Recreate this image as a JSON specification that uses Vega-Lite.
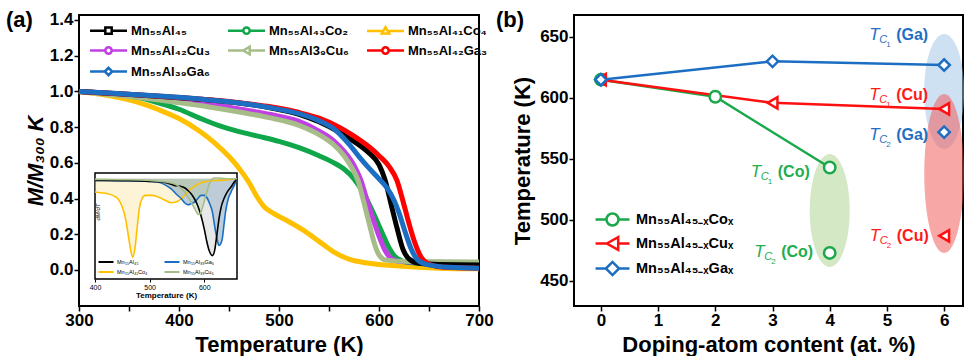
{
  "$schema": "https://vega.github.io/schema/vega-lite/v6.json",
  "padding": {"left": 5, "top": 7, "right": 0, "bottom": 0},
  "background": "white",
  "spacing": 0,
  "resolve": {"scale": {"color": "independent", "fill": "independent", "stroke": "independent", "shape": "independent"}, "legend": {"color": "independent", "fill": "independent", "stroke": "independent", "shape": "independent"}},
  "config": {
    "font": "Liberation Sans",
    "view": {"stroke": "black", "strokeWidth": 2},
    "axis": {"grid": false, "domain": false, "labelOverlap": false, "labelFlush": false, "labelFont": "Liberation Sans", "labelFontSize": 17, "labelFontWeight": "bold", "labelColor": "black", "titleFont": "Liberation Sans", "titleFontSize": 22, "titleFontWeight": "bold", "titleColor": "black", "tickColor": "black", "tickWidth": 1.5, "tickSize": 5, "labelPadding": 1},
    "legend": {"labelFont": "Liberation Sans", "labelColor": "black"}
  },
  "hconcat": [
    {
      "width": 400,
      "height": 291,
      "resolve": {"scale": {"x": "independent", "y": "independent"}},
      "layer": [
        {
          "data": {"values": [
            {"s":"Co4","T":300,"M":1.0},{"s":"Co4","T":320,"M":0.985},{"s":"Co4","T":340,"M":0.965},{"s":"Co4","T":360,"M":0.937},{"s":"Co4","T":380,"M":0.897},{"s":"Co4","T":400,"M":0.848},{"s":"Co4","T":420,"M":0.78},{"s":"Co4","T":435,"M":0.715},{"s":"Co4","T":450,"M":0.635},{"s":"Co4","T":460,"M":0.57},{"s":"Co4","T":470,"M":0.49},{"s":"Co4","T":478,"M":0.41},{"s":"Co4","T":485,"M":0.355},{"s":"Co4","T":495,"M":0.315},{"s":"Co4","T":510,"M":0.27},{"s":"Co4","T":525,"M":0.22},{"s":"Co4","T":540,"M":0.16},{"s":"Co4","T":555,"M":0.1},{"s":"Co4","T":570,"M":0.06},{"s":"Co4","T":590,"M":0.037},{"s":"Co4","T":620,"M":0.022},{"s":"Co4","T":660,"M":0.01},{"s":"Co4","T":700,"M":0.006},
            {"s":"Co2","T":300,"M":1.0},{"s":"Co2","T":330,"M":0.988},{"s":"Co2","T":360,"M":0.965},{"s":"Co2","T":380,"M":0.935},{"s":"Co2","T":400,"M":0.9},{"s":"Co2","T":420,"M":0.852},{"s":"Co2","T":440,"M":0.808},{"s":"Co2","T":460,"M":0.775},{"s":"Co2","T":480,"M":0.748},{"s":"Co2","T":500,"M":0.72},{"s":"Co2","T":520,"M":0.685},{"s":"Co2","T":540,"M":0.64},{"s":"Co2","T":555,"M":0.6},{"s":"Co2","T":565,"M":0.565},{"s":"Co2","T":575,"M":0.51},{"s":"Co2","T":585,"M":0.425},{"s":"Co2","T":595,"M":0.31},{"s":"Co2","T":603,"M":0.21},{"s":"Co2","T":610,"M":0.125},{"s":"Co2","T":618,"M":0.065},{"s":"Co2","T":630,"M":0.042},{"s":"Co2","T":660,"M":0.036},{"s":"Co2","T":700,"M":0.035},
            {"s":"Cu3","T":300,"M":1.0},{"s":"Cu3","T":330,"M":0.988},{"s":"Cu3","T":360,"M":0.973},{"s":"Cu3","T":400,"M":0.948},{"s":"Cu3","T":430,"M":0.928},{"s":"Cu3","T":460,"M":0.902},{"s":"Cu3","T":490,"M":0.872},{"s":"Cu3","T":520,"M":0.832},{"s":"Cu3","T":540,"M":0.778},{"s":"Cu3","T":555,"M":0.722},{"s":"Cu3","T":565,"M":0.665},{"s":"Cu3","T":575,"M":0.585},{"s":"Cu3","T":582,"M":0.5},{"s":"Cu3","T":588,"M":0.39},{"s":"Cu3","T":594,"M":0.285},{"s":"Cu3","T":600,"M":0.19},{"s":"Cu3","T":606,"M":0.11},{"s":"Cu3","T":612,"M":0.065},{"s":"Cu3","T":620,"M":0.048},{"s":"Cu3","T":650,"M":0.04},{"s":"Cu3","T":700,"M":0.04},
            {"s":"Cu6","T":300,"M":1.0},{"s":"Cu6","T":330,"M":0.982},{"s":"Cu6","T":360,"M":0.966},{"s":"Cu6","T":400,"M":0.937},{"s":"Cu6","T":430,"M":0.913},{"s":"Cu6","T":460,"M":0.885},{"s":"Cu6","T":490,"M":0.853},{"s":"Cu6","T":520,"M":0.81},{"s":"Cu6","T":540,"M":0.758},{"s":"Cu6","T":555,"M":0.7},{"s":"Cu6","T":565,"M":0.64},{"s":"Cu6","T":572,"M":0.58},{"s":"Cu6","T":579,"M":0.5},{"s":"Cu6","T":585,"M":0.375},{"s":"Cu6","T":590,"M":0.265},{"s":"Cu6","T":595,"M":0.155},{"s":"Cu6","T":600,"M":0.085},{"s":"Cu6","T":607,"M":0.055},{"s":"Cu6","T":630,"M":0.047},{"s":"Cu6","T":700,"M":0.045},
            {"s":"45","T":300,"M":1.0},{"s":"45","T":330,"M":0.99},{"s":"45","T":360,"M":0.98},{"s":"45","T":400,"M":0.965},{"s":"45","T":430,"M":0.952},{"s":"45","T":460,"M":0.935},{"s":"45","T":490,"M":0.91},{"s":"45","T":520,"M":0.872},{"s":"45","T":540,"M":0.83},{"s":"45","T":560,"M":0.772},{"s":"45","T":575,"M":0.72},{"s":"45","T":590,"M":0.655},{"s":"45","T":600,"M":0.59},{"s":"45","T":606,"M":0.505},{"s":"45","T":612,"M":0.37},{"s":"45","T":618,"M":0.235},{"s":"45","T":624,"M":0.115},{"s":"45","T":630,"M":0.062},{"s":"45","T":640,"M":0.037},{"s":"45","T":660,"M":0.03},{"s":"45","T":700,"M":0.028},
            {"s":"Ga3","T":300,"M":1.0},{"s":"Ga3","T":330,"M":0.99},{"s":"Ga3","T":360,"M":0.98},{"s":"Ga3","T":400,"M":0.966},{"s":"Ga3","T":430,"M":0.953},{"s":"Ga3","T":460,"M":0.937},{"s":"Ga3","T":490,"M":0.915},{"s":"Ga3","T":520,"M":0.882},{"s":"Ga3","T":540,"M":0.85},{"s":"Ga3","T":560,"M":0.8},{"s":"Ga3","T":575,"M":0.75},{"s":"Ga3","T":590,"M":0.69},{"s":"Ga3","T":600,"M":0.64},{"s":"Ga3","T":610,"M":0.58},{"s":"Ga3","T":618,"M":0.5},{"s":"Ga3","T":624,"M":0.385},{"s":"Ga3","T":630,"M":0.26},{"s":"Ga3","T":636,"M":0.15},{"s":"Ga3","T":642,"M":0.072},{"s":"Ga3","T":650,"M":0.032},{"s":"Ga3","T":665,"M":0.015},{"s":"Ga3","T":700,"M":0.01},
            {"s":"Ga6","T":300,"M":1.0},{"s":"Ga6","T":330,"M":0.991},{"s":"Ga6","T":360,"M":0.981},{"s":"Ga6","T":400,"M":0.967},{"s":"Ga6","T":430,"M":0.952},{"s":"Ga6","T":460,"M":0.935},{"s":"Ga6","T":490,"M":0.91},{"s":"Ga6","T":520,"M":0.875},{"s":"Ga6","T":540,"M":0.835},{"s":"Ga6","T":555,"M":0.79},{"s":"Ga6","T":570,"M":0.705},{"s":"Ga6","T":580,"M":0.635},{"s":"Ga6","T":590,"M":0.57},{"s":"Ga6","T":600,"M":0.51},{"s":"Ga6","T":608,"M":0.46},{"s":"Ga6","T":615,"M":0.39},{"s":"Ga6","T":620,"M":0.32},{"s":"Ga6","T":626,"M":0.215},{"s":"Ga6","T":632,"M":0.12},{"s":"Ga6","T":638,"M":0.06},{"s":"Ga6","T":648,"M":0.03},{"s":"Ga6","T":670,"M":0.015},{"s":"Ga6","T":700,"M":0.01}
          ]},
          "layer": [
            {
              "mark": {"type": "line", "strokeWidth": 5, "interpolate": "monotone"},
              "encoding": {
                "x": {"field": "T", "type": "quantitative", "title": "Temperature (K)", "scale": {"domain": [300, 700], "nice": false, "zero": false},
                      "axis": {"values": [300,350,400,450,500,550,600,650,700], "labelExpr": "datum.value % 100 == 0 ? format(datum.value, 'd') : ''", "labelOverlap": false, "labelFlush": false, "titlePadding": 6}},
                "y": {"field": "M", "type": "quantitative", "title": "M/M₃₀₀ K", "scale": {"domain": [-0.202, 1.428], "nice": false, "zero": false},
                      "axis": {"values": [0,0.1,0.2,0.3,0.4,0.5,0.6,0.7,0.8,0.9,1.0,1.1,1.2,1.3,1.4], "labels": true, "ticks": true, "labelExpr": "abs(round(datum.value*5) - datum.value*5) < 0.01 ? format(datum.value, '.1f') : ''", "labelOverlap": false, "titleFontStyle": "italic", "titlePadding": 2}},
                "color": {"field": "s", "type": "nominal",
                  "scale": {"domain": ["45","Co2","Co4","Cu3","Cu6","Ga3","Ga6"], "range": ["#000000","#10a64a","#ffc000","#c040e4","#a6bd8a","#ff0000","#1b6ec2"]},
                  "legend": {"orient": "none", "direction": "horizontal", "legendX": 22, "legendY": 8, "columns": 3, "title": null, "symbolType": "M-3,0H3", "symbolSize": 144, "symbolStrokeWidth": 2.5, "labelFontSize": 13, "labelFontWeight": "bold", "labelOffset": 15, "columnPadding": 12, "rowPadding": 2,
                    "labelExpr": "{'45':'Mn₅₅Al₄₅','Co2':'Mn₅₅Al₄₃Co₂','Co4':'Mn₅₅Al₄₁Co₄','Cu3':'Mn₅₅Al₄₂Cu₃','Cu6':'Mn₅₅Al3₉Cu₆','Ga3':'Mn₅₅Al₄₂Ga₃','Ga6':'Mn₅₅Al₃₉Ga₆'}[datum.value]",
                    "encode": {"symbols": {"update": {
                      "shape": {"signal": "{'45':'M-3.08,0H-0.53M0.53,0H3.08M-0.53,-0.53H0.53V0.53H-0.53Z','Co2':'M-3.08,0H-0.53M0.53,0H3.08M-0.53,0A0.53,0.53 0 1,1 0.53,0A0.53,0.53 0 1,1 -0.53,0Z','Co4':'M-3.08,0H-0.4M0.4,0H3.08M0,-0.62L0.62,0.45H-0.62Z','Cu3':'M-3.08,0H-0.53M0.53,0H3.08M-0.53,0A0.53,0.53 0 1,1 0.53,0A0.53,0.53 0 1,1 -0.53,0Z','Cu6':'M-3.08,0H-0.53M0.53,0H3.08M-0.53,0L0.53,-0.62V0.62Z','Ga3':'M-3.08,0H-0.53M0.53,0H3.08M-0.53,0A0.53,0.53 0 1,1 0.53,0A0.53,0.53 0 1,1 -0.53,0Z','Ga6':'M-3.08,0H-0.62M0.62,0H3.08M-0.62,0L0,-0.62L0.62,0L0,0.62Z'}[datum.value]"},
                      "fill": {"value": "white"},
                      "strokeWidth": {"value": 2.5}
                    }}}
                  }}
              }
            },
            {
              "data": {"values": [{}]},
              "mark": {"type": "text", "text": "(a)", "align": "left", "baseline": "middle", "dx": -73, "fontSize": 22, "fontWeight": "bold", "color": "black"},
              "encoding": {"x": {"datum": 300, "type": "quantitative"}, "y": {"datum": 1.4, "type": "quantitative"}}
            }
          ]
        },
        {
          "data": {"values": [
            {"si":"Co4","T":400,"d":-0.4},{"si":"Co4","T":410,"d":-0.42},{"si":"Co4","T":423,"d":-0.45},{"si":"Co4","T":435,"d":-0.52},{"si":"Co4","T":442,"d":-0.6},{"si":"Co4","T":450,"d":-0.85},{"si":"Co4","T":456,"d":-1.2},{"si":"Co4","T":461,"d":-1.7},{"si":"Co4","T":465,"d":-2.1},{"si":"Co4","T":469,"d":-2.35},{"si":"Co4","T":473,"d":-2.1},{"si":"Co4","T":477,"d":-1.5},{"si":"Co4","T":481,"d":-0.9},{"si":"Co4","T":486,"d":-0.6},{"si":"Co4","T":492,"d":-0.5},{"si":"Co4","T":505,"d":-0.5},{"si":"Co4","T":520,"d":-0.58},{"si":"Co4","T":530,"d":-0.66},{"si":"Co4","T":539,"d":-0.72},{"si":"Co4","T":548,"d":-0.7},{"si":"Co4","T":558,"d":-0.6},{"si":"Co4","T":567,"d":-0.45},{"si":"Co4","T":576,"d":-0.3},{"si":"Co4","T":585,"d":-0.2},{"si":"Co4","T":594,"d":-0.12},{"si":"Co4","T":610,"d":-0.07},{"si":"Co4","T":625,"d":-0.05},{"si":"Co4","T":645,"d":-0.03},{"si":"Co4","T":660,"d":0},
            {"si":"Ga6","T":400,"d":-0.05},{"si":"Ga6","T":450,"d":-0.06},{"si":"Ga6","T":500,"d":-0.08},{"si":"Ga6","T":515,"d":-0.1},{"si":"Ga6","T":530,"d":-0.2},{"si":"Ga6","T":539,"d":-0.3},{"si":"Ga6","T":550,"d":-0.48},{"si":"Ga6","T":558,"d":-0.6},{"si":"Ga6","T":564,"d":-0.72},{"si":"Ga6","T":570,"d":-0.78},{"si":"Ga6","T":576,"d":-0.75},{"si":"Ga6","T":582,"d":-0.7},{"si":"Ga6","T":588,"d":-0.6},{"si":"Ga6","T":594,"d":-0.5},{"si":"Ga6","T":600,"d":-0.5},{"si":"Ga6","T":606,"d":-0.6},{"si":"Ga6","T":610,"d":-0.75},{"si":"Ga6","T":615,"d":-1.0},{"si":"Ga6","T":618,"d":-1.3},{"si":"Ga6","T":621,"d":-1.6},{"si":"Ga6","T":624,"d":-1.85},{"si":"Ga6","T":627,"d":-2.0},{"si":"Ga6","T":630,"d":-1.95},{"si":"Ga6","T":633,"d":-1.8},{"si":"Ga6","T":636,"d":-1.4},{"si":"Ga6","T":639,"d":-1.0},{"si":"Ga6","T":644,"d":-0.6},{"si":"Ga6","T":649,"d":-0.4},{"si":"Ga6","T":655,"d":-0.2},{"si":"Ga6","T":660,"d":0},
            {"si":"45","T":400,"d":-0.05},{"si":"45","T":450,"d":-0.06},{"si":"45","T":500,"d":-0.08},{"si":"45","T":530,"d":-0.12},{"si":"45","T":545,"d":-0.2},{"si":"45","T":555,"d":-0.22},{"si":"45","T":564,"d":-0.27},{"si":"45","T":570,"d":-0.35},{"si":"45","T":576,"d":-0.45},{"si":"45","T":582,"d":-0.6},{"si":"45","T":588,"d":-0.8},{"si":"45","T":594,"d":-1.1},{"si":"45","T":600,"d":-1.5},{"si":"45","T":605,"d":-1.9},{"si":"45","T":609,"d":-2.15},{"si":"45","T":615,"d":-2.3},{"si":"45","T":619,"d":-2.15},{"si":"45","T":623,"d":-1.7},{"si":"45","T":627,"d":-1.2},{"si":"45","T":631,"d":-0.85},{"si":"45","T":636,"d":-0.6},{"si":"45","T":642,"d":-0.4},{"si":"45","T":649,"d":-0.25},{"si":"45","T":655,"d":-0.1},{"si":"45","T":660,"d":0},
            {"si":"Cu6","T":400,"d":-0.02},{"si":"Cu6","T":450,"d":-0.03},{"si":"Cu6","T":500,"d":-0.05},{"si":"Cu6","T":530,"d":-0.1},{"si":"Cu6","T":545,"d":-0.15},{"si":"Cu6","T":555,"d":-0.25},{"si":"Cu6","T":564,"d":-0.4},{"si":"Cu6","T":570,"d":-0.55},{"si":"Cu6","T":576,"d":-0.7},{"si":"Cu6","T":582,"d":-0.88},{"si":"Cu6","T":588,"d":-1.05},{"si":"Cu6","T":591,"d":-1.07},{"si":"Cu6","T":594,"d":-1.0},{"si":"Cu6","T":598,"d":-0.8},{"si":"Cu6","T":603,"d":-0.5},{"si":"Cu6","T":608,"d":-0.22},{"si":"Cu6","T":612,"d":-0.05},{"si":"Cu6","T":618,"d":0.02},{"si":"Cu6","T":625,"d":0.02},{"si":"Cu6","T":640,"d":0.0},{"si":"Cu6","T":660,"d":0}
          ]},
          "layer": [
            {
              "data": {"values": [{}]},
              "mark": {"type": "rect", "fill": "white", "stroke": "black", "strokeWidth": 1.5},
              "encoding": {
                "x": {"datum": 400, "type": "quantitative", "scale": {"domain": [400, 660], "nice": false, "zero": false, "range": [16, 158]},
                      "axis": {"orient": "bottom", "offset": -27, "values": [400, 500, 600], "labelFontSize": 7, "labelFontWeight": "normal", "tickSize": 3, "tickWidth": 1, "labelPadding": 1, "title": "Temperature (K)", "titleFontSize": 8, "titlePadding": 1}},
                "x2": {"datum": 660},
                "y": {"datum": -3.0, "type": "quantitative", "scale": {"domain": [-3.0, 0.17], "nice": false, "zero": false, "range": [264, 158]}, "axis": null},
                "y2": {"datum": 0.17}
              }
            },
            {
              "data": {"values": [{}]},
              "mark": {"type": "text", "text": "dM/dT", "angle": 270, "align": "center", "baseline": "top", "fontSize": 6, "fontStyle": "italic", "color": "black"},
              "encoding": {"x": {"datum": 400, "type": "quantitative"}, "y": {"datum": -1.0, "type": "quantitative"}}
            },
            {
              "transform": [{"filter": "datum.si == 'Co4'"}],
              "mark": {"type": "area", "interpolate": "monotone", "opacity": 0.4, "color": "#fbe39a"},
              "encoding": {"x": {"field": "T", "type": "quantitative"}, "y": {"field": "d", "type": "quantitative"}, "y2": {"datum": 0}}
            },
            {
              "transform": [{"filter": "datum.si == 'Ga6'"}],
              "mark": {"type": "area", "interpolate": "monotone", "opacity": 0.4, "color": "#4f86b0"},
              "encoding": {"x": {"field": "T", "type": "quantitative"}, "y": {"field": "d", "type": "quantitative"}, "y2": {"datum": 0}}
            },
            {
              "transform": [{"filter": "datum.si == '45'"}],
              "mark": {"type": "area", "interpolate": "monotone", "opacity": 0.4, "color": "#c4c9c9"},
              "encoding": {"x": {"field": "T", "type": "quantitative"}, "y": {"field": "d", "type": "quantitative"}, "y2": {"datum": 0}}
            },
            {
              "transform": [{"filter": "datum.si == 'Cu6'"}],
              "mark": {"type": "area", "interpolate": "monotone", "opacity": 0.4, "color": "#b5c7a3"},
              "encoding": {"x": {"field": "T", "type": "quantitative"}, "y": {"field": "d", "type": "quantitative"}, "y2": {"datum": 0}}
            },
            {
              "mark": {"type": "line", "interpolate": "monotone", "strokeWidth": 1.6},
              "encoding": {
                "x": {"field": "T", "type": "quantitative"},
                "y": {"field": "d", "type": "quantitative"},
                "stroke": {"field": "si", "type": "nominal", "scale": {"domain": ["45","Ga6","Co4","Cu6"], "range": ["#000000","#1b6ec2","#ffc000","#a6bd8a"]},
                  "legend": {"orient": "none", "direction": "horizontal", "legendX": 24, "legendY": 244, "columns": 2, "title": null, "symbolType": "M-3.75,0H3.75", "symbolSize": 16, "symbolStrokeWidth": 2, "labelFontSize": 5.5, "labelFontWeight": "normal", "labelOffset": 8, "columnPadding": 12, "rowPadding": 2,
                    "labelExpr": "{'45':'Mn₅₅Al₄₅','Ga6':'Mn₅₅Al₃₉Ga₆','Co4':'Mn₅₅Al₄₁Co₄','Cu6':'Mn₅₅Al₃₉Cu₆'}[datum.value]"}}
              }
            }
          ]
        }
      ]
    },
    {
      "width": 389,
      "height": 291,
      "layer": [
        {
          "data": {"values": [{"x": 4, "y": 507.8}]},
          "mark": {"type": "point", "shape": "M-0.354,0A0.354,1 0 1,0 0.354,0A0.354,1 0 1,0 -0.354,0Z", "size": 12769, "filled": true, "color": "#a9d18e", "opacity": 0.5, "strokeWidth": 0},
          "encoding": {
            "x": {"field": "x", "type": "quantitative", "title": "Doping-atom content (at. %)", "scale": {"domain": [-0.47, 6.33], "nice": false, "zero": false},
                  "axis": {"values": [0,0.5,1,1.5,2,2.5,3,3.5,4,4.5,5,5.5,6], "labelExpr": "datum.value % 1 == 0 ? format(datum.value, 'd') : ''", "labelOverlap": false, "labelFlush": false, "titlePadding": 6}},
            "y": {"field": "y", "type": "quantitative", "title": "Temperature (K)", "scale": {"domain": [429.5, 668], "nice": false, "zero": false},
                  "axis": {"values": [450,475,500,525,550,575,600,625,650], "labelExpr": "datum.value % 50 == 0 ? format(datum.value, 'd') : ''", "labelOverlap": false, "titlePadding": 5}}
          }
        },
        {
          "data": {"values": [{"x": 6, "y": 605.3}]},
          "mark": {"type": "point", "shape": "M-0.348,0A0.348,1 0 1,0 0.348,0A0.348,1 0 1,0 -0.348,0Z", "size": 13225, "filled": true, "color": "#9dc3e6", "opacity": 0.5, "strokeWidth": 0},
          "encoding": {"x": {"field": "x", "type": "quantitative", "title": "Doping-atom content (at. %)"}, "y": {"field": "y", "type": "quantitative", "title": "Temperature (K)"}}
        },
        {
          "data": {"values": [{"x": 6, "y": 538.1}]},
          "mark": {"type": "point", "shape": "M-0.25,0A0.25,1 0 1,0 0.25,0A0.25,1 0 1,0 -0.25,0Z", "size": 25281, "filled": true, "color": "#f25050", "opacity": 0.5, "strokeWidth": 0},
          "encoding": {"x": {"field": "x", "type": "quantitative", "title": "Doping-atom content (at. %)"}, "y": {"field": "y", "type": "quantitative", "title": "Temperature (K)"}}
        },
        {
          "data": {"values": [
            {"el":"Co","k":1,"x":0,"y":615},{"el":"Co","k":1,"x":2,"y":601},{"el":"Co","k":1,"x":4,"y":543},{"el":"Co","k":2,"x":4,"y":473},
            {"el":"Cu","k":1,"x":0,"y":615},{"el":"Cu","k":1,"x":3,"y":596},{"el":"Cu","k":1,"x":6,"y":591},{"el":"Cu","k":2,"x":6,"y":487},
            {"el":"Ga","k":1,"x":0,"y":615},{"el":"Ga","k":1,"x":3,"y":630},{"el":"Ga","k":1,"x":6,"y":627},{"el":"Ga","k":2,"x":6,"y":572}
          ]},
          "layer": [
            {
              "transform": [{"filter": "datum.k == 1"}],
              "mark": {"type": "line", "strokeWidth": 2.5},
              "encoding": {
                "x": {"field": "x", "type": "quantitative", "title": "Doping-atom content (at. %)"},
                "y": {"field": "y", "type": "quantitative", "title": "Temperature (K)"},
                "color": {"field": "el", "type": "nominal", "scale": {"domain": ["Co","Cu","Ga"], "range": ["#1aa84b","#ff1010","#1b6ec2"]},
                  "legend": {"orient": "none", "legendX": 31, "legendY": 197, "title": null, "symbolType": "M-3,0H3", "symbolSize": 144, "symbolStrokeWidth": 2.5, "labelFontSize": 14.5, "labelFontWeight": "bold", "labelOffset": 16, "rowPadding": 1,
                    "labelExpr": "{'Co':'Mn₅₅Al₄₅₋ₓCoₓ','Cu':'Mn₅₅Al₄₅₋ₓCuₓ','Ga':'Mn₅₅Al₄₅₋ₓGaₓ'}[datum.value]",
                    "encode": {"symbols": {"update": {
                      "shape": {"signal": "{'Co':'M-2.83,0H-1M1,0H2.83M-1,0A1,1 0 1,1 1,0A1,1 0 1,1 -1,0Z','Cu':'M-2.83,0H-0.95M0.95,0H2.83M-0.95,0L0.95,-1.05V1.05Z','Ga':'M-2.83,0H-1.1M1.1,0H2.83M-1.1,0L0,-1.1L1.1,0L0,1.1Z'}[datum.value]"},
                      "fill": {"value": "white"},
                      "strokeWidth": {"value": 2.5}
                    }}}}}
              }
            },
            {
              "mark": {"type": "point", "filled": false, "fill": "white", "fillOpacity": 1, "opacity": 1, "strokeWidth": 2.5, "size": 130},
              "encoding": {
                "x": {"field": "x", "type": "quantitative", "title": "Doping-atom content (at. %)"},
                "y": {"field": "y", "type": "quantitative", "title": "Temperature (K)"},
                "stroke": {"field": "el", "type": "nominal", "scale": {"domain": ["Cu","Ga","Co"], "range": ["#ff1010","#1b6ec2","#1aa84b"]}, "legend": null},
                "shape": {"field": "el", "type": "nominal", "scale": {"domain": ["Ga","Cu","Co"], "range": ["diamond","triangle-left","circle"]}, "legend": null}
              }
            }
          ]
        },
        {
          "data": {"values": [
            {"el":"Ga","n":"1","p":"(Ga)","x":4.69,"y":651.6},
            {"el":"Cu","n":"1","p":"(Cu)","x":4.69,"y":602.5},
            {"el":"Ga","n":"2","p":"(Ga)","x":4.69,"y":569.7},
            {"el":"Co","n":"1","p":"(Co)","x":2.62,"y":539.3},
            {"el":"Co","n":"2","p":"(Co)","x":2.68,"y":473.8},
            {"el":"Cu","n":"2","p":"(Cu)","x":4.70,"y":486.9}
          ]},
          "layer": [
            {
              "mark": {"type": "text", "text": "T", "align": "left", "baseline": "middle", "fontSize": 17, "fontStyle": "italic"},
              "encoding": {
                "x": {"field": "x", "type": "quantitative", "title": "Doping-atom content (at. %)"},
                "y": {"field": "y", "type": "quantitative", "title": "Temperature (K)"},
                "fill": {"field": "el", "type": "nominal", "scale": {"domain": ["Ga","Co","Cu"], "range": ["#1f6fc4","#22ad4e","#ff1a1a"]}, "legend": null}
              }
            },
            {
              "mark": {"type": "text", "text": "C", "align": "left", "baseline": "middle", "dx": 10, "dy": 5, "fontSize": 11, "fontStyle": "italic"},
              "encoding": {
                "x": {"field": "x", "type": "quantitative", "title": "Doping-atom content (at. %)"},
                "y": {"field": "y", "type": "quantitative", "title": "Temperature (K)"},
                "fill": {"field": "el", "type": "nominal", "legend": null}
              }
            },
            {
              "mark": {"type": "text", "align": "left", "baseline": "middle", "dx": 17, "dy": 10, "fontSize": 8},
              "encoding": {
                "x": {"field": "x", "type": "quantitative", "title": "Doping-atom content (at. %)"},
                "y": {"field": "y", "type": "quantitative", "title": "Temperature (K)"},
                "text": {"field": "n"},
                "fill": {"field": "el", "type": "nominal", "legend": null}
              }
            },
            {
              "mark": {"type": "text", "align": "left", "baseline": "middle", "dx": 27, "fontSize": 16, "fontWeight": "bold"},
              "encoding": {
                "x": {"field": "x", "type": "quantitative", "title": "Doping-atom content (at. %)"},
                "y": {"field": "y", "type": "quantitative", "title": "Temperature (K)"},
                "text": {"field": "p"},
                "fill": {"field": "el", "type": "nominal", "legend": null}
              }
            }
          ]
        },
        {
          "data": {"values": [{}]},
          "mark": {"type": "text", "text": "(b)", "align": "left", "baseline": "middle", "dx": -78, "fontSize": 22, "fontWeight": "bold", "color": "black"},
          "encoding": {"x": {"datum": -0.47, "type": "quantitative"}, "y": {"datum": 664, "type": "quantitative"}}
        }
      ]
    }
  ]
}
